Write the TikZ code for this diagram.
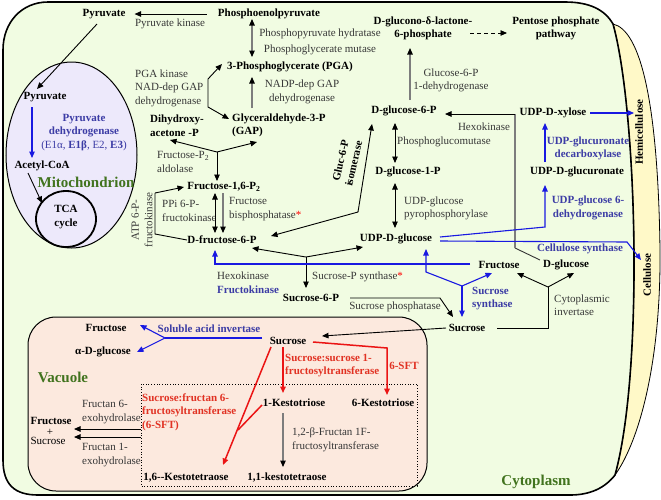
\documentclass[tikz,border=0pt]{standalone}
\usepackage{fontspec}
\setmainfont{Liberation Serif}
\usetikzlibrary{arrows.meta,calc}
\definecolor{cytof}{RGB}{241,252,226}
\definecolor{mitof}{RGB}{237,233,251}
\definecolor{vacf}{RGB}{252,233,222}
\definecolor{wallf}{RGB}{255,249,200}
\definecolor{enzc}{RGB}{55,55,55}
\definecolor{bluel}{RGB}{25,25,225}
\definecolor{bluet}{RGB}{60,60,165}
\definecolor{redl}{RGB}{235,20,20}
\definecolor{redt}{RGB}{225,50,35}
\definecolor{greent}{RGB}{65,115,30}
\definecolor{grayl}{RGB}{125,125,125}
\begin{document}
\begin{tikzpicture}[x=1pt,y=-1pt,
  every node/.style={inner sep=0pt, font=\fontsize{11}{13.5}\selectfont},
  met/.style={font=\fontsize{11}{13.5}\selectfont\bfseries},
  enz/.style={text=enzc},
  benz/.style={text=bluet, font=\fontsize{11}{13.5}\selectfont\bfseries},
  renz/.style={text=redt, font=\fontsize{11}{13.5}\selectfont\bfseries},
  comp/.style={text=greent, font=\fontsize{15}{17}\selectfont\bfseries},
  tip/.tip={Triangle[length=6.5pt,width=5.5pt]},
  btip/.tip={Triangle[length=6.5pt,width=5.5pt,color=black]},
  ln/.style={line width=0.9pt},
  arr/.style={ln, -tip},
  darr/.style={ln, tip-tip},
  garr/.style={line width=1.1pt, draw=grayl, -btip},
  gdarr/.style={line width=1.1pt, draw=grayl, btip-btip},
  blarr/.style={line width=1.1pt, draw=bluel, -tip},
  blln/.style={line width=1.1pt, draw=bluel},
  rarr/.style={line width=1.5pt, draw=redl, -tip},
  rln/.style={line width=1.5pt, draw=redl}
]
\useasboundingbox (0,0) rectangle (661,499);
\fill[white] (0,0) rectangle (661,499);

% cell wall band
\path[fill=wallf, draw=black, line width=0.8pt] (613,24) .. controls (640,30) and (658,100) .. (660,250) .. controls (661,360) and (640,440) .. (615,475) .. controls (644,370) and (637,110) .. (613,24) -- cycle;
% cytoplasm
\path[fill=cytof, draw=black, line width=1.6pt] (48,2) -- (565,2) .. controls (590,2) and (605,10) .. (613,24) .. controls (637,110) and (644,370) .. (615,475) .. controls (605,488) and (590,495) .. (570,495) -- (38,495) .. controls (15,495) and (3,485) .. (3,460) -- (3,50) .. controls (3,22) and (22,2) .. (48,2) -- cycle;
% mitochondrion
\draw[fill=mitof, line width=1pt] (71.5,155) ellipse [x radius=65.5pt, y radius=93pt];
\draw[line width=1.8pt] (66,219) ellipse [x radius=30pt, y radius=28pt];
% vacuole
\draw[fill=vacf, line width=1pt, rounded corners=28pt] (28,317) rectangle (427,491);
\draw[dotted, line width=0.7pt] (141,384) rectangle (417,486);

% ---------- nodes ----------
\node[met] (pyr1) at (104,14) {Pyruvate};
\node[met] (pep) at (269,14) {Phosphoenolpyruvate};
\node[enz] (pk) at (170,24) {Pyruvate kinase};
\node[enz] (pph) at (320,34) {Phosphopyruvate hydratase};
\node[enz] (pgm) at (320,50) {Phosphoglycerate mutase};
\node[met] (pga) at (290,67) {3-Phosphoglycerate (PGA)};
\node[enz, align=center] (nadp) at (302,92) {NADP-dep GAP\\dehydrogenase};
\node[enz, align=left, anchor=west] (pgak) at (135,88) {PGA kinase\\NAD-dep GAP\\dehydrogenase};
\node[met, align=left, anchor=west] (dhap) at (150,125.5) {Dihydroxy-\\acetone -P};
\node[met, align=left, anchor=west] (gap) at (232,125.5) {Glyceraldehyde-3-P\\(GAP)};
\node[enz, align=left, anchor=west] (ald) at (157,162) {Fructose-P\textsubscript{2}\\aldolase};
\node[met] (f16) at (224,187) {Fructose-1,6-P\textsubscript{2}};
\node[enz, align=left, anchor=west] (ppfk) at (162,211) {PPi 6-P-\\fructokinase};
\node[enz, align=left, anchor=west] (fbp) at (229,209) {Fructose\\bisphosphatase\textcolor{red}{*}};
\node[enz, align=center, rotate=90] (atpfk) at (142,220) {ATP 6-P-\\fructokinase};
\node[met] (f6p) at (222,240) {D-fructose-6-P};
\node[met, align=center, rotate=77] (gpi) at (347,162) {Gluc-6-P\\isomerase};
\node[met] (g6p) at (404,111) {D-glucose-6-P};
\node[met] (g1p) at (408,172) {D-glucose-1-P};
\node[enz, anchor=west] (pgmu) at (397,142) {Phosphoglucomutase};
\node[enz, align=left, anchor=west] (ugp) at (404,208.5) {UDP-glucose\\pyrophosphorylase};
\node[met] (udpg) at (396,239) {UDP-D-glucose};
\node[met, align=center] (lac) at (423,28.5) {D-glucono-δ-lactone-\\6-phosphate};
\node[met, align=center] (ppp) at (556,28.5) {Pentose phosphate\\pathway};
\node[enz, align=center] (g6pdh) at (451,80.5) {Glucose-6-P\\1-dehydrogenase};
\node[enz] (hk2) at (484,127) {Hexokinase};
\node[met] (xyl) at (553,113) {UDP-D-xylose};
\node[benz, align=center] (uxs) at (588,148.5) {UDP-glucuronate\\decarboxylase};
\node[met] (glca) at (577,172) {UDP-D-glucuronate};
\node[benz, align=center] (ugd) at (588,208) {UDP-glucose 6-\\dehydrogenase};
\node[benz] (cesa) at (580,249) {Cellulose synthase};
\node[met] (fru) at (499,265) {Fructose};
\node[met] (glc) at (566,265) {D-glucose};
\node[enz, align=left, anchor=west] (hk1) at (217,282.5) {Hexokinase\\\textcolor{bluet}{\bfseries Fructokinase}};
\node[enz, anchor=west] (sps) at (312,277) {Sucrose-P synthase\textcolor{red}{*}};
\node[met] (s6p) at (311,298) {Sucrose-6-P};
\node[enz] (spp) at (395,307) {Sucrose phosphatase};
\node[benz, align=left, anchor=west] (susy) at (472,298.5) {Sucrose\\synthase};
\node[enz, align=left, anchor=west] (cinv) at (554,305) {Cytoplasmic\\invertase};
\node[met] (succ) at (467,328) {Sucrose};
\node[met, rotate=90] (hemi) at (639,132) {Hemicellulose};
\node[met, rotate=90] (cell) at (647,275) {Cellulose};
% mitochondrion
\node[met] (pyr2) at (45,97) {Pyruvate};
\node[benz, align=center] (pdh) at (84,132.5) {Pyruvate\\dehydrogenase\\{\mdseries(E1α, \textbf{E1β}, E2, \textbf{E3})}};
\node[met] (acoa) at (42,166) {Acetyl-CoA};
\node[comp] (mito) at (86,182) {Mitochondrion};
\node[met, align=center] (tca) at (66,217) {TCA\\cycle};
% vacuole
\node[met] (frv) at (106,328) {Fructose};
\node[met] (aglc) at (103,352) {α-D-glucose};
\node[benz] (sai) at (209,329) {Soluble acid invertase};
\node[met] (sucv) at (288,341) {Sucrose};
\node[renz, align=left, anchor=west] (ss1) at (285,365.5) {Sucrose:sucrose 1-\\fructosyltransferase};
\node[renz] (sft) at (404,366) {6-SFT};
\node[comp] (vac) at (63,377) {Vacuole};
\node[met] (k1) at (294,403) {1-Kestotriose};
\node[met] (k6) at (383,403) {6-Kestotriose};
\node[renz, align=left, anchor=west] (sf6) at (142,412) {Sucrose:fructan 6-\\fructosyltransferase\\(6-SFT)};
\node[enz, align=left, anchor=west] (fe6) at (82,412) {Fructan 6-\\exohydrolase};
\node[enz, align=left, anchor=west] (fe1) at (82,455) {Fructan 1-\\exohydrolase};
\node[met] (fplus) at (51,421) {Fructose};
\node (plus) at (50,432) {+};
\node (sucx) at (48,441) {Sucrose};
\node[enz, align=left, anchor=west] (fft) at (292,440) {1,2-β-Fructan 1F-\\fructosyltransferase};
\node[met] (k11) at (287,478) {1,1-kestotetraose};
\node[met] (k16) at (186,478) {1,6{-}{-}Kestotetraose};
\node[comp] (cyto) at (536,482) {Cytoplasm};

% ---------- coordinates ----------
\coordinate (pyrA) at (97,24);   \coordinate (pyrB) at (37,89);
\coordinate (pdA) at (32,107);   \coordinate (pdB) at (32,158);
\coordinate (acA) at (28,173);   \coordinate (acB) at (42,203);
\coordinate (pepD) at (252,19);  \coordinate (pgaU) at (252,57);
\coordinate (gapU) at (252,108); \coordinate (pgaD) at (252,77);
\coordinate (brA) at (229,119);  \coordinate (brB) at (208,107);
\coordinate (brC) at (208,79);   \coordinate (brD) at (222,64);
\coordinate (jal) at (217,152);  \coordinate (dhT) at (170,140);
\coordinate (gaT) at (257,142);  \coordinate (f16T) at (217,181);
\coordinate (atpA) at (155,193); \coordinate (atpT) at (184,187);
\coordinate (atpB) at (155,234); \coordinate (atpC) at (187,240);
\coordinate (f16B) at (215,193); \coordinate (f6T) at (215,233);
\coordinate (fbA) at (223,193);  \coordinate (fbB) at (223,233);
\coordinate (giA) at (372,124);  \coordinate (giB) at (358,212);
\coordinate (giC) at (271,236);
\coordinate (jsp) at (306,257);  \coordinate (spF) at (252,248);
\coordinate (spU) at (363,247);  \coordinate (spS) at (306,288);
\coordinate (fkA) at (470,264);  \coordinate (fkB) at (215,264);
\coordinate (fkC) at (215,250);
\coordinate (pmA) at (395,123);  \coordinate (pmB) at (395,163);
\coordinate (upA) at (395,183);  \coordinate (upB) at (395,228);
\coordinate (gdA) at (410,100);  \coordinate (gdB) at (410,48);
\coordinate (dsA) at (470,33);   \coordinate (dsB) at (507,33);
\coordinate (hkA) at (540,260);  \coordinate (hkB) at (515,248);
\coordinate (hkC) at (515,114);  \coordinate (hkD) at (445,114);
\coordinate (xyA) at (590,113);  \coordinate (xyB) at (634,113);
\coordinate (dcA) at (545,162);  \coordinate (dcB) at (545,123);
\coordinate (ugA) at (440,237);  \coordinate (ugB) at (545,227);
\coordinate (ugC) at (545,185);
\coordinate (csA) at (440,241);  \coordinate (csB) at (627,242);
\coordinate (csC) at (641,260);
\coordinate (jss) at (462,286);  \coordinate (ssA) at (426,272);
\coordinate (ssU) at (426,249);  \coordinate (ssF) at (492,273);
\coordinate (ssS) at (462,317);
\coordinate (phA) at (350,298);  \coordinate (phB) at (440,298);
\coordinate (phC) at (453,317);
\coordinate (jci) at (548,287);  \coordinate (ciF) at (517,273);
\coordinate (ciG) at (574,273);  \coordinate (ciB) at (548,328);
\coordinate (ciS) at (497,328);
\coordinate (tvA) at (446,328);  \coordinate (tvB) at (322,336);
\coordinate (saA) at (262,338);  \coordinate (jsa) at (165,338);
\coordinate (saF) at (140,325);  \coordinate (saG) at (137,352);
\coordinate (r1A) at (283,347);  \coordinate (r1B) at (283,393);
\coordinate (r2A) at (313,342);  \coordinate (r2B) at (387,348);
\coordinate (r2C) at (387,395);
\coordinate (r3A) at (271,347);  \coordinate (r3B) at (223,465);
\coordinate (r4A) at (262,405);  \coordinate (r4B) at (238,430);
\coordinate (ktA) at (283,413);  \coordinate (ktB) at (283,467);
\coordinate (ehA) at (141,429);  \coordinate (ehB) at (74,429);
\coordinate (ehC) at (141,437);  \coordinate (ehD) at (74,437);

% ---------- connectors ----------
\draw[arr, shorten <=11pt, shorten >=9pt] (pep.west) -- (pyr1.east);
\draw[arr] (pyrA) -- (pyrB);
\draw[blarr] (pdA) -- (pdB);
\draw[arr] (acA) -- (acB);
\draw[gdarr] (pepD) -- (pgaU);
\draw[garr] (gapU) -- (pgaD);
\draw[darr] (brA) -- (brB) -- (brC) -- (brD);
\draw[arr] (jal) -- (dhT);
\draw[arr] (jal) -- (gaT);
\draw[arr] (jal) -- (f16T);
\draw[arr] (atpA) -- (atpT);
\draw[ln] (atpA) -- (atpB) -- (atpC);
\draw[darr] (f16B) -- (f6T);
\draw[garr] (fbA) -- (fbB);
\draw[darr] (giA) -- (giB) -- (giC);
\draw[arr] (jsp) -- (spF);
\draw[arr] (jsp) -- (spU);
\draw[arr] (jsp) -- (spS);
\draw[blarr] (fkA) -- (fkB) -- (fkC);
\draw[darr] (pmA) -- (pmB);
\draw[darr] (upA) -- (upB);
\draw[garr] (gdA) -- (gdB);
\draw[arr, dashed, dash pattern=on 4pt off 3pt] (dsA) -- (dsB);
\draw[ln, draw=black!80] (hkA) -- (hkB);
\draw[line width=1.1pt, draw=grayl] (hkB) -- (hkC);
\draw[arr] (hkC) -- (hkD);
\draw[blarr] (xyA) -- (xyB);
\draw[blarr] (dcA) -- (dcB);
\draw[blarr] (ugA) -- (ugB) -- (ugC);
\draw[blarr] (csA) -- (csB) -- (csC);
\draw[blarr] (jss) -- (ssA) -- (ssU);
\draw[blarr] (jss) -- (ssF);
\draw[blarr] (jss) -- (ssS);
\draw[arr] (phA) -- (phB) -- (phC);
\draw[arr] (jci) -- (ciF);
\draw[arr] (jci) -- (ciG);
\draw[ln] (jci) -- (ciB) -- (ciS);
\draw[arr] (tvA) -- (tvB);
\draw[blln] (saA) -- (jsa);
\draw[blarr] (jsa) -- (saF);
\draw[blarr] (jsa) -- (saG);
\draw[rarr] (r1A) -- (r1B);
\draw[rarr] (r2A) -- (r2B) -- (r2C);
\draw[rarr] (r3A) -- (r3B);
\draw[rln] (r4A) -- (r4B);
\draw[garr] (ktA) -- (ktB);
\draw[arr] (ehA) -- (ehB);
\draw[arr] (ehC) -- (ehD);
\end{tikzpicture}
\end{document}
